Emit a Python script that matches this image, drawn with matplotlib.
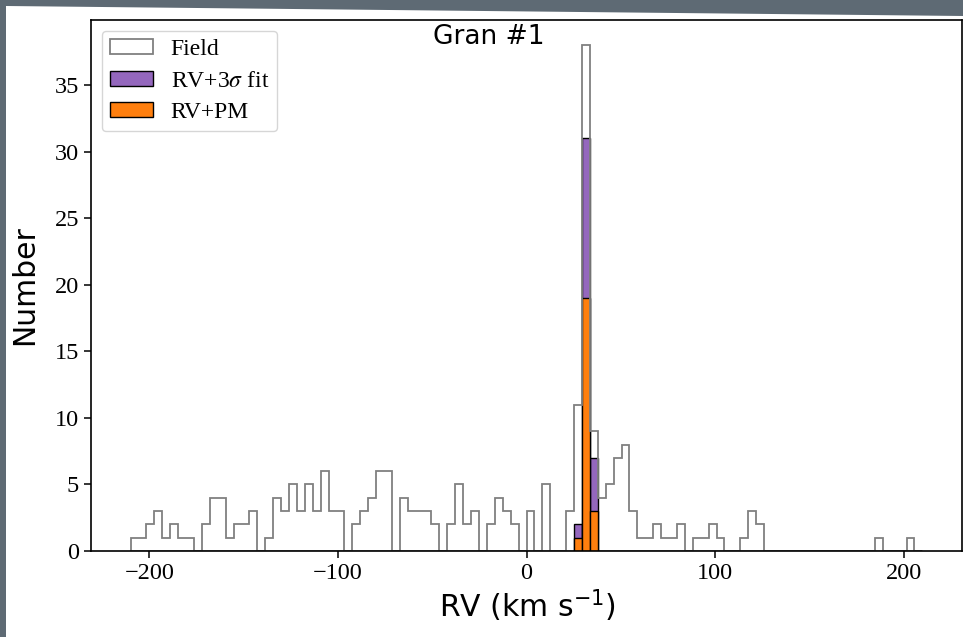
import numpy as np
import matplotlib
matplotlib.use("Agg")
import matplotlib.pyplot as plt
from matplotlib.patches import Polygon
from matplotlib.font_manager import FontProperties

# ---- data (counts per 4.2 km/s bin, from -210 to 210) ----
bin_lo, bin_hi, n_bins = -210.0, 210.0, 100
field_counts = [1, 1, 2, 3, 1, 2, 1, 1, 0, 2,
                4, 4, 1, 2, 2, 3, 0, 1, 4, 3,
                5, 3, 5, 3, 6, 3, 3, 0, 2, 3,
                4, 6, 6, 0, 4, 3, 3, 3, 2, 0,
                2, 5, 2, 3, 0, 2, 4, 3, 2, 0,
                3, 0, 5, 0, 0, 3, 11, 38, 9, 4,
                5, 7, 8, 3, 1, 1, 2, 1, 1, 2,
                0, 1, 1, 2, 1, 0, 0, 1, 3, 2,
                0, 0, 0, 0, 0, 0, 0, 0, 0, 0,
                0, 0, 0, 0, 1, 0, 0, 0, 1, 0]
# members: bins 56, 57, 58
member_bins = [56, 57, 58]
rv3sig_counts = [2, 31, 7]
rvpm_counts = [1, 19, 3]

labels = ["Field", r"RV+3$\sigma$ fit", "RV+PM"]
title = "Gran #1"
xlabel = r"RV (km s$^{-1}$)"
ylabel = "Number"

# ---- figure ----
W, H = 963, 637
fig = plt.figure(figsize=(W / 100, H / 100), dpi=100)
fig.patch.set_facecolor("#5e6a74")
# white slide area (slightly tilted top edge)
bg = Polygon([(6 / W, 0), (6 / W, 1 - 6 / H), (1, 1 - 16 / H), (1, 0)],
             closed=True, transform=fig.transFigure,
             facecolor="white", edgecolor="none", zorder=-10)
fig.patches.append(bg)

ax = fig.add_axes([91 / W, 1 - 551 / H, (962 - 91) / W, (551 - 20) / H])
ax.set_zorder(1)

edges = np.linspace(bin_lo, bin_hi, n_bins + 1)
centers = 0.5 * (edges[:-1] + edges[1:])
mem_centers = centers[member_bins]

ax.hist(centers, bins=edges, weights=field_counts, histtype="step",
        color="gray", lw=1.3, label=labels[0])
ax.hist(mem_centers, bins=edges, weights=rv3sig_counts, histtype="bar",
        color="#9467bd", edgecolor="black", lw=1.0, label=labels[1])
ax.hist(mem_centers, bins=edges, weights=rvpm_counts, histtype="bar",
        color="#ff7f0e", edgecolor="black", lw=1.0, label=labels[2])

ax.set_xlim(-231, 231)
ax.set_ylim(0, 39.9)
ax.set_xticks([-200, -100, 0, 100, 200])
ax.set_yticks([0, 5, 10, 15, 20, 25, 30, 35])

serif = ["Liberation Serif", "DejaVu Serif"]
for lab in ax.get_xticklabels() + ax.get_yticklabels():
    lab.set_fontfamily(serif)
    lab.set_fontsize(17.5)
ax.tick_params(length=5, width=1.1)
for s in ax.spines.values():
    s.set_linewidth(1.2)

leg_prop = FontProperties(family=serif, size=17, math_fontfamily="stix")
leg = ax.legend(loc="upper left", prop=leg_prop, borderaxespad=0.45,
                handlelength=1.82, handleheight=0.62, labelspacing=0.45,
                handletextpad=0.75, borderpad=0.35)

sans = FontProperties(family="DejaVu Sans", math_fontfamily="dejavusans")
fig.text(489 / W, 1 - 37 / H, title, ha="center", va="center",
         fontproperties=sans, fontsize=19)
fig.text(25 / W, 1 - 285 / H, ylabel, ha="center", va="center", rotation=90,
         fontproperties=sans, fontsize=21.5)
fig.text(527 / W, 1 - 606 / H, xlabel, ha="center", va="center",
         fontproperties=sans, fontsize=21.5)

fig.savefig("out.png", dpi=100, facecolor=fig.get_facecolor())
